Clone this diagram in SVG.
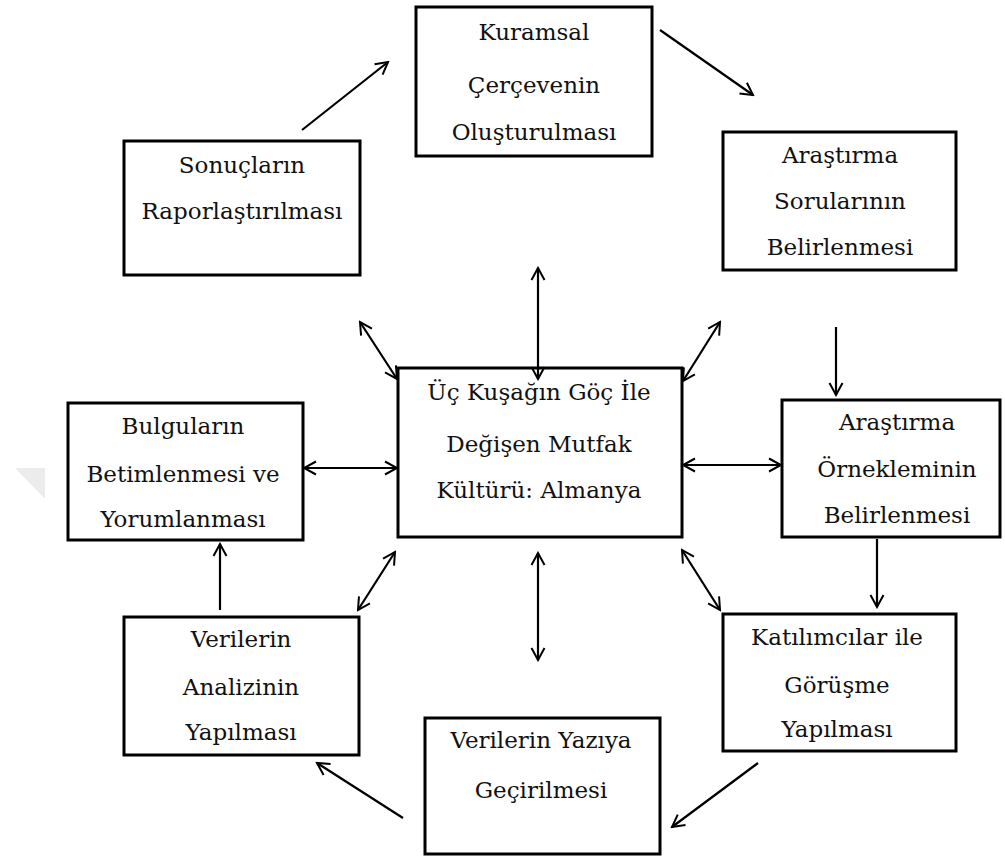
<svg xmlns="http://www.w3.org/2000/svg" width="1005" height="860" viewBox="0 0 1005 860">
<defs>
<marker id="ah" markerUnits="userSpaceOnUse" markerWidth="16" markerHeight="16" viewBox="0 0 16 16" refX="14" refY="8" orient="auto-start-reverse">
<path d="M2,1.5 L14,8 L2,14.5" fill="none" stroke="#000" stroke-width="2"/>
</marker>
</defs>
<style>
.box{fill:#fff;stroke:#000;stroke-width:3}
.t{font-family:'DejaVu Serif','Liberation Serif',serif;font-size:23px;fill:#111;text-anchor:middle}
.c{stroke:#000;stroke-width:2.2;fill:none}
.s{marker-end:url(#ah)}
.d{marker-start:url(#ah);marker-end:url(#ah)}
</style>
<rect width="1005" height="860" fill="#fff"/>
<polygon points="15,468 45,468 45,499" fill="#ececec"/>
<g id="kuramsal">
<rect class="box" x="416" y="7" width="236" height="149"/>
<text class="t" x="534" y="40">Kuramsal</text>
<text class="t" x="534" y="93">Çerçevenin</text>
<text class="t" x="534" y="140">Oluşturulması</text>
</g>
<g id="sonuclar">
<rect class="box" x="124" y="141" width="236" height="134"/>
<text class="t" x="242" y="173">Sonuçların</text>
<text class="t" x="242" y="219">Raporlaştırılması</text>
</g>
<g id="sorular">
<rect class="box" x="723" y="132" width="233" height="138"/>
<text class="t" x="840" y="163">Araştırma</text>
<text class="t" x="840" y="209">Sorularının</text>
<text class="t" x="840" y="255">Belirlenmesi</text>
</g>
<g id="merkez">
<rect class="box" x="398" y="368" width="284" height="169"/>
<text class="t" x="539" y="400">Üç Kuşağın Göç İle</text>
<text class="t" x="539" y="452">Değişen Mutfak</text>
<text class="t" x="539" y="498">Kültürü: Almanya</text>
</g>
<g id="orneklem">
<rect class="box" x="782" y="400" width="218" height="137"/>
<text class="t" x="897" y="430">Araştırma</text>
<text class="t" x="897" y="477">Örnekleminin</text>
<text class="t" x="897" y="523">Belirlenmesi</text>
</g>
<g id="bulgular">
<rect class="box" x="68" y="403" width="235" height="137"/>
<text class="t" x="183" y="434">Bulguların</text>
<text class="t" x="183" y="482">Betimlenmesi ve</text>
<text class="t" x="183" y="527">Yorumlanması</text>
</g>
<g id="analiz">
<rect class="box" x="124" y="617" width="235" height="138"/>
<text class="t" x="241" y="647">Verilerin</text>
<text class="t" x="241" y="695">Analizinin</text>
<text class="t" x="241" y="740">Yapılması</text>
</g>
<g id="gorusme">
<rect class="box" x="723" y="614" width="233" height="137"/>
<text class="t" x="837" y="645">Katılımcılar ile</text>
<text class="t" x="837" y="693">Görüşme</text>
<text class="t" x="837" y="737">Yapılması</text>
</g>
<g id="yaziya">
<rect class="box" x="425" y="718" width="235" height="136"/>
<text class="t" x="541" y="748">Verilerin Yazıya</text>
<text class="t" x="541" y="798">Geçirilmesi</text>
</g>
<g id="connectors">
<line class="c s" x1="302" y1="130" x2="388" y2="62"/>
<line class="c s" x1="660" y1="30" x2="753" y2="95"/>
<line class="c s" x1="836" y1="327" x2="836" y2="395"/>
<line class="c s" x1="877" y1="539" x2="877" y2="607"/>
<line class="c s" x1="758" y1="763" x2="672" y2="827"/>
<line class="c s" x1="403" y1="818" x2="317" y2="763"/>
<line class="c s" x1="220" y1="610" x2="220" y2="544"/>
<line class="c d" x1="538" y1="268" x2="538" y2="379"/>
<line class="c d" x1="360" y1="322" x2="397" y2="379"/>
<line class="c d" x1="720" y1="322" x2="683" y2="381"/>
<line class="c d" x1="304" y1="468" x2="397" y2="468"/>
<line class="c d" x1="683" y1="465" x2="781" y2="465"/>
<line class="c d" x1="358" y1="610" x2="395" y2="552"/>
<line class="c d" x1="538" y1="553" x2="538" y2="660"/>
<line class="c d" x1="682" y1="550" x2="720" y2="610"/>
</g>
</svg>
